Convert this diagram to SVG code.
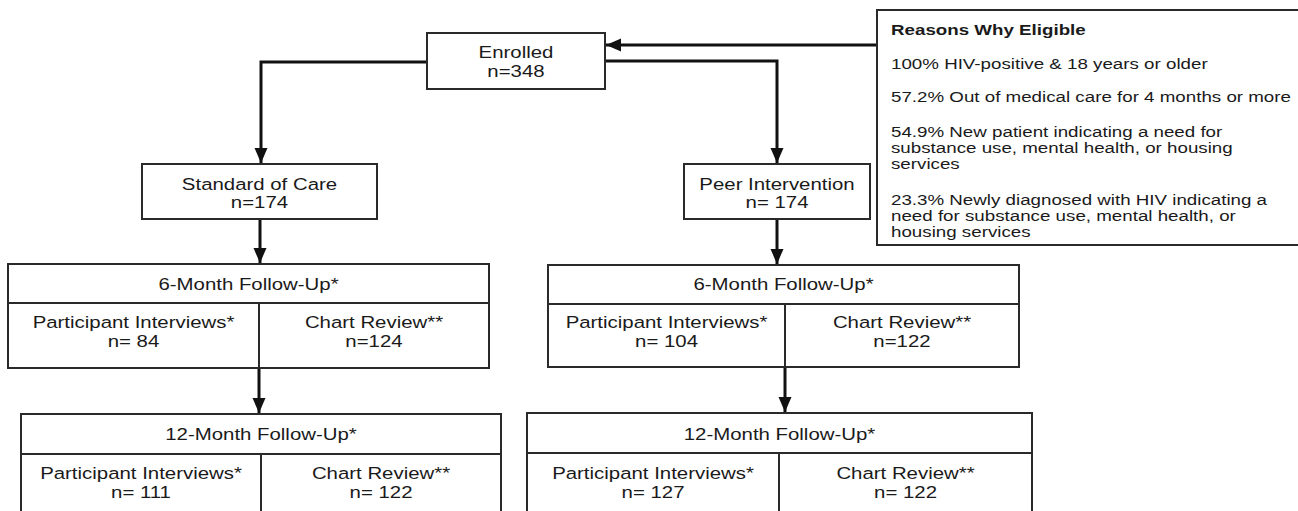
<svg xmlns="http://www.w3.org/2000/svg" width="1298" height="511" viewBox="0 0 1298 511">
<defs>
<style>
.box{fill:#fff;stroke:#2a2a2a;stroke-width:2}
.div{stroke:#2a2a2a;stroke-width:2;fill:none}
.con{stroke:#111;stroke-width:3;fill:none}
.t{font-family:"Liberation Sans",Arial,sans-serif;font-size:17px;fill:#1a1a1a;text-anchor:middle}
.r{font-family:"Liberation Sans",Arial,sans-serif;font-size:15px;fill:#1a1a1a}
.rb{font-weight:bold}
</style>
<marker id="ah" markerUnits="userSpaceOnUse" markerWidth="16" markerHeight="14" refX="15" refY="6.5" orient="auto">
<path d="M0,0 L15,6.5 L0,13 Z" fill="#111"/>
</marker>
</defs>
<rect width="1298" height="511" fill="#fff"/>

<g id="connectors">
<path class="con" d="M877,45 H606" marker-end="url(#ah)"/>
<path class="con" d="M427,62 H261 V163" marker-end="url(#ah)"/>
<path class="con" d="M605,61 H777 V163" marker-end="url(#ah)"/>
<path class="con" d="M260,219 V263" marker-end="url(#ah)"/>
<path class="con" d="M777,219 V264" marker-end="url(#ah)"/>
<path class="con" d="M259,368 V413" marker-end="url(#ah)"/>
<path class="con" d="M785,367 V412" marker-end="url(#ah)"/>
</g>

<g id="enrolled">
<rect class="box" x="427" y="33" width="178" height="56"/>
<text class="t" transform="translate(516,58) scale(1.2,1)">Enrolled</text>
<text class="t" transform="translate(516,77) scale(1.2,1)">n=348</text>
</g>

<g id="reasons">
<rect class="box" x="877" y="10" width="430" height="235"/>
<text class="r rb" transform="translate(891,35) scale(1.25,1)">Reasons Why Eligible</text>
<text class="r" transform="translate(891,69) scale(1.25,1)">100% HIV-positive &amp; 18 years or older</text>
<text class="r" transform="translate(891,102) scale(1.25,1)">57.2% Out of medical care for 4 months or more</text>
<text class="r" transform="translate(891,137) scale(1.25,1)">54.9% New patient indicating a need for</text>
<text class="r" transform="translate(891,153) scale(1.25,1)">substance use, mental health, or housing</text>
<text class="r" transform="translate(891,169) scale(1.25,1)">services</text>
<text class="r" transform="translate(891,205) scale(1.25,1)">23.3% Newly diagnosed with HIV indicating a</text>
<text class="r" transform="translate(891,221) scale(1.25,1)">need for substance use, mental health, or</text>
<text class="r" transform="translate(891,237) scale(1.25,1)">housing services</text>
</g>

<g id="standard-of-care">
<rect class="box" x="142" y="164" width="235" height="55"/>
<text class="t" transform="translate(259.5,190) scale(1.2,1)">Standard of Care</text>
<text class="t" transform="translate(259.5,208) scale(1.2,1)">n=174</text>
</g>

<g id="peer-intervention">
<rect class="box" x="684" y="164" width="186" height="55"/>
<text class="t" transform="translate(777,190) scale(1.2,1)">Peer Intervention</text>
<text class="t" transform="translate(777,208) scale(1.2,1)">n= 174</text>
</g>

<g id="soc-6month">
<rect class="box" x="8" y="264" width="481" height="104"/>
<path class="div" d="M8,303 H489 M259,303 V368"/>
<text class="t" transform="translate(248.5,290) scale(1.2,1)">6-Month Follow-Up*</text>
<text class="t" transform="translate(133.5,328) scale(1.2,1)">Participant Interviews*</text>
<text class="t" transform="translate(133.5,347) scale(1.2,1)">n= 84</text>
<text class="t" transform="translate(374,328) scale(1.2,1)">Chart Review**</text>
<text class="t" transform="translate(374,347) scale(1.2,1)">n=124</text>
</g>

<g id="peer-6month">
<rect class="box" x="548" y="265" width="471" height="102"/>
<path class="div" d="M548,304 H1019 M785,304 V367"/>
<text class="t" transform="translate(783.5,290) scale(1.2,1)">6-Month Follow-Up*</text>
<text class="t" transform="translate(666.5,328) scale(1.2,1)">Participant Interviews*</text>
<text class="t" transform="translate(666.5,347) scale(1.2,1)">n= 104</text>
<text class="t" transform="translate(902,328) scale(1.2,1)">Chart Review**</text>
<text class="t" transform="translate(902,347) scale(1.2,1)">n=122</text>
</g>

<g id="soc-12month">
<rect class="box" x="21" y="414" width="480" height="110"/>
<path class="div" d="M21,454 H501 M261,454 V520"/>
<text class="t" transform="translate(261,440) scale(1.2,1)">12-Month Follow-Up*</text>
<text class="t" transform="translate(141,479) scale(1.2,1)">Participant Interviews*</text>
<text class="t" transform="translate(141,498) scale(1.2,1)">n= 111</text>
<text class="t" transform="translate(381,479) scale(1.2,1)">Chart Review**</text>
<text class="t" transform="translate(381,498) scale(1.2,1)">n= 122</text>
</g>

<g id="peer-12month">
<rect class="box" x="527" y="413" width="505" height="110"/>
<path class="div" d="M527,453 H1032 M779,453 V520"/>
<text class="t" transform="translate(779.5,440) scale(1.2,1)">12-Month Follow-Up*</text>
<text class="t" transform="translate(653,479) scale(1.2,1)">Participant Interviews*</text>
<text class="t" transform="translate(653,498) scale(1.2,1)">n= 127</text>
<text class="t" transform="translate(905.5,479) scale(1.2,1)">Chart Review**</text>
<text class="t" transform="translate(905.5,498) scale(1.2,1)">n= 122</text>
</g>
</svg>
